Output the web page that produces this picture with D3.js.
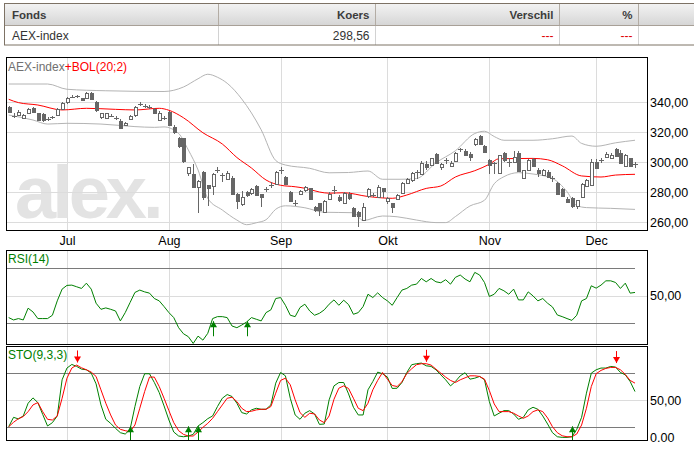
<!DOCTYPE html>
<html>
<head>
<meta charset="utf-8">
<script src="https://cdn.jsdelivr.net/npm/d3@7"></script>
<style>
  body { margin: 0; background: #fff; }
  svg { display: block; }
</style>
</head>
<body>
<svg id="chart" width="694" height="450"></svg>
<script>
// ---- data (one value per trading day, 15 Jun - 13 Dec 2011) ----
const opens = [
  337, 331.5, 331.3, 329.1, 332.4, 335.8, 332.4, 332, 328.5, 329.5,
  331.3, 335.1, 339.6, 343.2, 343.8, 342.4, 342.4, 346.2, 340.2, 329.8,
  329.1, 330.6, 329, 327.6, 324.7, 328.4, 331.3, 338.5, 337.2, 336.6,
  335.5, 328.4, 329, 333.6, 323.6, 315.8, 315.8, 292.4, 291.8, 283.1,
  293.6, 284.7, 284, 294, 291.6, 288.7, 289.6, 278.7, 272, 280,
  279, 284, 278.7, 281.5, 284.4, 285.3, 294.5, 290.2, 280.2, 273,
  279.1, 280.9, 282.4, 270.2, 272.4, 266.9, 275.1, 281, 276.4, 272.9,
  278.7, 269.6, 266.9, 260.9, 276.9, 277.8, 276.9, 282.4, 273.6, 272.4,
  275.1, 279.1, 286.2, 288.4, 293.4, 292, 298.7, 298, 305.3, 296.4,
  301, 297.8, 300.2, 307.6, 307.6, 305.3, 311.8, 317.3, 310.9, 301.3,
  299, 292.4, 306.2, 300, 300.2, 306.2, 289.1, 294.7, 301.8, 294.7,
  291.3, 293.6, 289.3, 286.2, 281.8, 275.1, 275.8, 270.7, 276.4, 284,
  284.7, 300.2, 301, 303.1, 302.4, 308.4, 306.2, 297.3, 302.4, 298.3
];
const highs = [
  337.5, 332.5, 334.5, 332, 336, 336.5, 332.8, 332.5, 329.8, 331,
  336, 340, 343.5, 345, 345, 343, 346.5, 346.8, 340.5, 333,
  333, 332, 330.5, 328.5, 326.8, 331.5, 337.5, 340, 338.5, 338,
  336, 333.8, 330.5, 334, 324.7, 316.9, 316, 297, 299, 288,
  294, 285, 292.5, 296.5, 293, 294.2, 290.5, 279.5, 281, 281,
  283, 284.5, 279, 283.5, 286.5, 294, 296.5, 291, 281, 274.5,
  281.5, 284, 283, 271, 273, 274.5, 280.2, 284, 278, 280,
  280, 270, 267.5, 272.4, 282.5, 279.5, 285, 283, 276.9, 273,
  279, 286.5, 289.5, 293.5, 295, 300.5, 300.5, 303, 306, 299.5,
  303, 300.5, 306.5, 309.5, 309, 306.5, 316, 318, 311.5, 302,
  300, 305, 306.5, 302.5, 307.6, 307.3, 295, 302, 302.5, 296,
  295.5, 294.5, 291, 287, 282.5, 276.5, 276.5, 275, 286, 289,
  302, 302, 303, 306.5, 306, 309.5, 308, 305.5, 303, 300
];
const lows = [
  333, 329.5, 330.5, 328.5, 332, 332.8, 327.5, 327, 327.5, 328.5,
  330.8, 334.6, 339, 342.5, 342.8, 340.5, 342, 342, 333.5, 329,
  328.8, 330, 328, 322.5, 324.2, 328, 330, 337.5, 336, 335.5,
  332.5, 328, 328, 324, 319, 309.1, 299.5, 291, 282.5, 266,
  275, 271, 278, 293, 287, 288, 278.5, 268.4, 271, 277,
  278, 277.5, 270.2, 280, 283, 284.5, 292, 285, 273.5, 271,
  278.5, 280, 274.5, 266.9, 264, 266, 274.5, 279, 273.5, 272,
  275, 263.5, 257, 260.5, 276, 276.5, 276.5, 276, 272, 266.2,
  274.5, 278.5, 285.5, 287, 289, 291.5, 295, 297.5, 298.5, 294.7,
  299, 297, 300, 307, 304, 300.5, 311, 311.5, 306, 292,
  292, 292, 300, 296.5, 299.5, 293.5, 288.5, 294, 296.5, 290.2,
  290.5, 289.5, 287, 278.5, 276.5, 272.4, 269.1, 268.5, 276, 283.5,
  284, 295.5, 299.5, 302.5, 302, 303.5, 299, 297, 296.5, 296
];
const closes = [
  333.6, 331, 333.6, 331.3, 335.3, 333.1, 328, 328, 328.9, 330,
  335.1, 339.1, 342.4, 343.6, 344, 340.9, 345.8, 342.4, 335.1, 332.4,
  332.4, 331, 329.3, 323.1, 326.2, 330.7, 336.9, 338.9, 337.5, 337,
  333.1, 332.9, 329.3, 324.7, 320.2, 310.2, 300.2, 296.4, 283.1, 287.3,
  276.9, 282.5, 291.8, 294.4, 291.3, 292.4, 279.1, 274.2, 276.9, 278,
  282, 278, 276.4, 281.8, 284.7, 293.6, 294.7, 285.8, 274.2, 272.9,
  280.9, 283.1, 275.1, 268, 268, 274.2, 278.7, 281.3, 274.2, 279.6,
  275.8, 264, 264, 269.8, 281.8, 278, 283.6, 280.2, 275.8, 269.6,
  278, 285.8, 288.7, 292.9, 293.6, 299.6, 296.4, 302.4, 299.1, 298.7,
  301.3, 299.6, 305.8, 308.4, 304.7, 303.1, 315.3, 312, 306.9, 298,
  299.1, 304.7, 301.3, 300.2, 303.6, 294.2, 294.7, 301.3, 297.3, 292.4,
  294.7, 290.2, 289.1, 279.1, 277.3, 272.9, 270.7, 274.7, 285.3, 288,
  300.2, 296.4, 301.3, 305.3, 304.7, 304, 299.6, 304.7, 297.3, 298.56
];

// Bollinger (20;2) lines, read as [day, value]
const bolUpper = [
  [0, 352], [8, 352], [12, 348.5], [20, 347.5], [32, 347], [36, 350], [39, 355.5],
  [41, 358.5], [43, 356.5], [45, 352.5], [48, 342], [52, 321.5], [55, 301], [57, 298],
  [62, 295.8], [66, 292.8], [70, 293], [74, 294], [77, 288.5], [81, 288.5], [84, 289],
  [88, 299.5], [92, 307.5], [96, 319], [98, 320.5], [100, 317], [102, 314.5], [108, 314.5],
  [112, 315.5], [116, 317.3], [118, 312.4], [121, 310.5], [125, 312.8], [129, 314.5]
];
const bolMiddle = [
  [0, 341.8], [2, 339.6], [6, 338], [11, 334.7], [16, 335.8], [22, 335.1], [26, 334.7],
  [31, 335.8], [33, 334.5], [36, 329.5], [40, 319.5], [44, 312], [47, 303], [50, 296],
  [53, 288], [56, 284.5], [59, 283.5], [61, 282.5], [64, 280], [66, 279.2], [69, 279.5],
  [74, 277], [79, 275.8], [82, 278], [86, 282.4], [89, 284], [92, 290], [96, 294.2],
  [99, 298.5], [101, 302.2], [108, 302.4], [111, 301.5], [114, 297.5], [118, 290.7],
  [122, 290], [125, 291.3], [129, 291.8]
];
const bolLower = [
  [0, 331.3], [5, 328], [8, 325.3], [12, 325.8], [19, 325.3], [26, 323.6], [30, 323.1],
  [32, 323.4], [35, 319], [37, 308], [39, 294.7], [41, 275.8], [44, 268], [47, 261.3],
  [49, 258.2], [51, 259.5], [53, 261.5], [55, 268.5], [57, 270.8], [61, 269.5], [65, 266.5],
  [71, 266.2], [73, 261], [77, 264], [80, 263.5], [84, 261.3], [88, 259.6], [90, 259.6],
  [92, 263.6], [95, 270.7], [98, 274.5], [100, 285.5], [102, 290.2], [105, 292.9],
  [108, 292], [112, 289], [115, 280.2], [117, 271], [119, 269.6], [124, 269.1], [129, 268.4]
];

const rsi = [
  34.1, 32.4, 33.4, 32.4, 40.9, 38.2, 33.4, 33.4, 33.4, 35.8,
  46.2, 54.7, 57.4, 57.6, 56.4, 55.2, 59.0, 54.7, 44.5, 40.1,
  41.1, 40.1, 38.9, 31.7, 37.7, 45.0, 52.3, 54.0, 52.7, 51.8,
  47.9, 46.2, 42.1, 37.7, 34.1, 26.8, 22.4, 20.3, 15.4, 20.7,
  17.8, 22.7, 33.4, 34.8, 34.8, 34.1, 28.0, 26.8, 28.7, 30.9,
  34.1, 32.9, 31.7, 37.7, 39.7, 47.9, 48.6, 43.0, 35.8, 34.8,
  41.4, 43.8, 38.9, 35.8, 37.2, 39.7, 43.8, 46.9, 43.0, 46.7,
  43.5, 36.5, 37.7, 42.1, 51.0, 48.6, 52.0, 48.6, 46.2, 43.0,
  48.6, 54.0, 55.2, 57.6, 58.3, 62.4, 60.0, 62.4, 60.0, 59.3,
  61.5, 58.3, 63.2, 64.9, 62.0, 60.0, 66.8, 64.9, 59.5, 49.4,
  51.0, 55.2, 53.5, 51.0, 54.7, 46.9, 46.9, 52.7, 49.8, 46.2,
  47.9, 44.5, 41.8, 36.0, 34.8, 33.4, 32.1, 35.8, 46.2, 47.9,
  57.1, 55.4, 57.6, 60.7, 60.7, 59.5, 55.2, 59.0, 51.8, 52.3
];
const stoK = [
  20.7, 31.1, 29.3, 32.6, 46.7, 52.6, 47.4, 34.4, 21.5, 25.2,
  32.6, 72.6, 85.6, 89.6, 87.4, 84.4, 83.7, 80.0, 68.1, 44.8,
  28.9, 24.4, 18.9, 14.1, 12.6, 17.8, 43.0, 65.2, 79.3, 79.3,
  69.6, 58.5, 43.7, 28.1, 14.8, 10.4, 9.6, 10.4, 12.2, 21.5,
  25.2, 29.6, 32.6, 43.0, 52.2, 56.3, 54.1, 46.7, 36.3, 34.8,
  39.3, 41.1, 40.0, 40.0, 44.8, 68.9, 80.7, 77.0, 52.2, 33.7,
  28.9, 35.6, 38.5, 34.8, 23.3, 23.7, 50.4, 65.9, 69.6, 69.6,
  57.0, 42.2, 33.7, 33.7, 61.5, 70.7, 81.1, 79.3, 75.6, 63.0,
  63.3, 69.6, 80.7, 89.3, 90.4, 91.1, 88.1, 87.4, 83.7, 78.1,
  72.6, 65.9, 70.7, 77.0, 80.4, 73.3, 74.4, 76.3, 72.6, 48.5,
  32.6, 35.6, 38.5, 38.5, 34.8, 28.9, 31.1, 39.3, 42.2, 40.0,
  32.6, 23.7, 14.1, 9.6, 8.9, 8.9, 9.6, 17.8, 31.1, 57.8,
  80.0, 83.7, 85.6, 85.6, 87.4, 86.7, 80.7, 78.1, 70.7, 59.6
];
const stoD = [
  20.7, 25.6, 29.6, 31.9, 37.4, 44.8, 47.4, 37.4, 28.9, 28.1,
  32.6, 52.2, 74.4, 85.6, 88.9, 85.9, 83.7, 81.1, 76.3, 61.5,
  46.7, 33.7, 22.6, 17.8, 16.3, 15.2, 22.6, 41.1, 59.6, 75.6,
  75.6, 65.2, 52.2, 38.5, 25.2, 16.3, 12.2, 10.4, 10.4, 14.8,
  20.0, 24.4, 30.0, 37.4, 44.8, 52.2, 53.3, 48.5, 41.1, 37.4,
  37.8, 39.3, 40.0, 40.0, 43.0, 57.8, 71.9, 74.4, 67.0, 50.4,
  36.3, 31.1, 35.6, 34.8, 28.1, 25.2, 32.6, 51.1, 63.3, 65.9,
  63.0, 52.2, 41.1, 38.5, 46.7, 61.5, 71.9, 80.7, 73.3, 66.3,
  65.2, 70.4, 79.6, 84.8, 89.3, 90.4, 90.4, 88.9, 84.4, 80.0,
  75.6, 71.9, 69.6, 72.6, 74.8, 77.0, 77.0, 76.3, 73.3, 60.7,
  45.9, 37.4, 37.4, 37.4, 35.6, 32.6, 30.0, 32.6, 37.4, 39.3,
  37.4, 30.4, 20.7, 14.1, 10.7, 9.6, 9.6, 12.6, 22.6, 41.1,
  65.2, 79.3, 83.0, 85.2, 86.3, 86.3, 83.7, 78.5, 71.9, 68.9
];

// signal arrows (trading-day index)
const rsiBuy = [42, 49];
const stoBuy = [25, 37, 39, 116];
const stoSell = [14, 86, 125];

const priceTicks = [260, 280, 300, 320, 340];
const rsiLevels = [30, 70];
const stoLevels = [20, 80];
const monthLabels = ['Jul', 'Aug', 'Sep', 'Okt', 'Nov', 'Dec'];
const tableHeader = ['Fonds', 'Koers', 'Verschil', '%'];
const tableRow = ['AEX-index', '298,56', '---', '---'];

// ---- layout ----
const FONT = 'Liberation Sans, Arial, sans-serif';
const candleColor = '#666';
const gridColor = '#dcdcdc';
const levelColor = '#7a7a7a';
const green = '#008000';
const red = '#ff0000';

const frameL = 6, frameR = 647;
const pricePanel = { top: 57, bottom: 230 };
const rsiPanel = { top: 250, bottom: 344 };
const stoPanel = { top: 346, bottom: 440 };

const svg = d3.select('#chart');
const nl = d3.formatLocale({ decimal: ',', thousands: '.', grouping: [3], currency: ['€', ''] });
const fmt = nl.format('.2f');

const dates = d3.timeDay.range(new Date(2011, 5, 15), new Date(2011, 11, 14))
                .filter(d => d.getDay() !== 0 && d.getDay() !== 6);
const monthIdx = dates.map((d, i) => i)
                      .filter(i => i > 0 && dates[i].getMonth() !== dates[i - 1].getMonth());

const x = d3.scaleLinear().domain([0, dates.length - 1]).range([8.7, 635]);
const yPrice = d3.scaleLinear().domain([260, 340]).range([222, 102]);
const yRsi = d3.scaleLinear().domain([15, 83]).range([rsiPanel.bottom, rsiPanel.top]);
const ySto = d3.scaleLinear().domain([6, 110]).range([stoPanel.bottom, stoPanel.top]);
const px = i => Math.round(x(i));

drawTable();
drawPanel(pricePanel);
drawPanel(rsiPanel);
drawPanel(stoPanel);
drawPrice();
drawRsi();
drawSto();
drawFrames();


function drawTable() {
  const defs = svg.append('defs');
  const grad = defs.append('linearGradient').attr('id', 'hdr').attr('x1', 0).attr('y1', 0).attr('x2', 0).attr('y2', 1);
  grad.append('stop').attr('offset', '0%').attr('stop-color', '#f3f3f3');
  grad.append('stop').attr('offset', '100%').attr('stop-color', '#d6d6d6');

  const g = svg.append('g').attr('font-family', FONT);
  const edges = [4.5, 218.5, 375.5, 559.5, 638.5, 720];

  g.append('rect').attr('x', 4.5).attr('y', 3.5).attr('width', 720).attr('height', 21.5)
    .attr('fill', 'url(#hdr)');
  g.append('rect').attr('x', 4.5).attr('y', 25).attr('width', 720).attr('height', 20)
    .attr('fill', '#fff');

  edges.slice(1, -1).forEach(e => {
    g.append('line').attr('x1', e).attr('x2', e).attr('y1', 4).attr('y2', 25)
      .attr('stroke', '#b3aca4');
    g.append('line').attr('x1', e).attr('x2', e).attr('y1', 25).attr('y2', 45)
      .attr('stroke', '#d2d2d2');
  });
  g.append('line').attr('x1', 4.5).attr('x2', 720).attr('y1', 25.5).attr('y2', 25.5)
    .attr('stroke', '#a8a097');
  g.append('rect').attr('x', 4.5).attr('y', 3.5).attr('width', 720).attr('height', 41.5)
    .attr('fill', 'none').attr('stroke', '#7d7265');

  tableHeader.forEach((t, k) => {
    const left = k === 0;
    g.append('text')
      .attr('x', left ? edges[k] + 7.5 : edges[k + 1] - 6)
      .attr('y', 18.5)
      .attr('text-anchor', left ? 'start' : 'end')
      .attr('font-size', 11.5).attr('font-weight', 'bold').attr('fill', '#3c3c3c')
      .text(t);
  });
  tableRow.forEach((t, k) => {
    const left = k === 0;
    g.append('text')
      .attr('x', left ? edges[k] + 7.5 : edges[k + 1] - 6)
      .attr('y', 39.5)
      .attr('text-anchor', left ? 'start' : 'end')
      .attr('font-size', 12).attr('fill', k >= 2 ? '#e00000' : '#333')
      .text(t);
  });
}  // End drawTable


function drawPanel(p) {
  svg.append('g').selectAll('line')
    .data(monthIdx)
    .enter()
    .append('line')
    .attr('x1', d => px(d) + 0.5).attr('x2', d => px(d) + 0.5)
    .attr('y1', p.top).attr('y2', p.bottom)
    .attr('stroke', gridColor);
}  // End drawPanel


function drawPrice() {
  // watermark
  svg.append('text')
    .attr('x', 15).attr('y', 218)
    .attr('font-family', FONT).attr('font-weight', 'bold').attr('font-size', 74)
    .attr('letter-spacing', -4)
    .attr('fill', '#e3e3e3')
    .text('alex.');

  svg.append('g').selectAll('line')
    .data(priceTicks)
    .enter()
    .append('line')
    .attr('x1', frameL).attr('x2', frameR)
    .attr('y1', d => Math.round(yPrice(d)) + 0.5).attr('y2', d => Math.round(yPrice(d)) + 0.5)
    .attr('stroke', gridColor);

  const line = d3.line().x(d => x(d[0])).y(d => yPrice(d[1])).curve(d3.curveMonotoneX);
  [[bolUpper, '#b4b4b4'], [bolLower, '#b4b4b4'], [bolMiddle, red]].forEach(([s, c]) => {
    svg.append('path').datum(s).attr('d', line)
      .attr('fill', 'none').attr('stroke', c).attr('stroke-width', 1);
  });

  const candles = svg.append('g').attr('shape-rendering', 'crispEdges');
  const idx = d3.range(closes.length);

  candles.selectAll('.wick')
    .data(idx)
    .enter()
    .append('line')
    .attr('class', 'wick')
    .attr('x1', i => px(i) + 0.5).attr('x2', i => px(i) + 0.5)
    .attr('y1', i => yPrice(highs[i])).attr('y2', i => yPrice(lows[i]))
    .attr('stroke', candleColor);

  const doji = i => Math.abs(yPrice(opens[i]) - yPrice(closes[i])) < 1.5;

  candles.selectAll('.body')
    .data(idx.filter(i => !doji(i)))
    .enter()
    .append('rect')
    .attr('class', 'body')
    .attr('x', i => px(i) - 1)
    .attr('y', i => Math.round(yPrice(Math.max(opens[i], closes[i]))))
    .attr('width', 3)
    .attr('height', i => Math.round(Math.abs(yPrice(opens[i]) - yPrice(closes[i]))))
    .attr('fill', i => closes[i] < opens[i] ? candleColor : '#fff')
    .attr('stroke', candleColor);

  candles.selectAll('.cross')
    .data(idx.filter(doji))
    .enter()
    .append('line')
    .attr('class', 'cross')
    .attr('x1', i => px(i) - 2).attr('x2', i => px(i) + 3)
    .attr('y1', i => Math.round(yPrice(closes[i])) + 0.5)
    .attr('y2', i => Math.round(yPrice(closes[i])) + 0.5)
    .attr('stroke', candleColor);

  const axis = svg.append('g')
    .attr('transform', `translate(${frameR},0)`)
    .call(d3.axisRight(yPrice).tickValues(priceTicks).tickSize(0).tickPadding(3).tickFormat(fmt));
  styleAxis(axis);

  const months = svg.append('g')
    .attr('transform', `translate(0,${pricePanel.bottom})`)
    .call(d3.axisBottom(x).tickValues(monthIdx).tickSize(0).tickPadding(6.5)
            .tickFormat((d, k) => monthLabels[k]));
  styleAxis(months);

  const title = svg.append('text').attr('x', 8).attr('y', 70.5)
    .attr('font-family', FONT).attr('font-size', 12);
  title.append('tspan').attr('fill', '#707070').text('AEX-index');
  title.append('tspan').attr('fill', red).text('+BOL(20;2)');
}  // End drawPrice


function drawRsi() {
  svg.append('line')
    .attr('x1', frameL).attr('x2', frameR)
    .attr('y1', Math.round(yRsi(50)) + 0.5).attr('y2', Math.round(yRsi(50)) + 0.5)
    .attr('stroke', gridColor);
  levelLines(rsiLevels, yRsi);

  svg.append('path').datum(rsi)
    .attr('d', d3.line().x((d, i) => x(i)).y(d => yRsi(d)))
    .attr('fill', 'none').attr('stroke', green);

  rsiBuy.forEach(i => arrow(x(i), yRsi(30) - 2, 15, 1, green));

  const axis = svg.append('g')
    .attr('transform', `translate(${frameR},0)`)
    .call(d3.axisRight(yRsi).tickValues([50]).tickSize(0).tickPadding(3).tickFormat(fmt));
  styleAxis(axis);

  svg.append('text').attr('x', 8).attr('y', 263)
    .attr('font-family', FONT).attr('font-size', 12).attr('fill', green)
    .text('RSI(14)');
}  // End drawRsi


function drawSto() {
  svg.append('line')
    .attr('x1', frameL).attr('x2', frameR)
    .attr('y1', Math.round(ySto(50)) + 0.5).attr('y2', Math.round(ySto(50)) + 0.5)
    .attr('stroke', gridColor);
  levelLines(stoLevels, ySto);

  const line = d3.line().x((d, i) => x(i)).y(d => ySto(d));
  svg.append('path').datum(stoK).attr('d', line).attr('fill', 'none').attr('stroke', green);
  svg.append('path').datum(stoD).attr('d', line).attr('fill', 'none').attr('stroke', red);

  stoBuy.forEach(i => arrow(x(i), ySto(20) - 1, stoPanel.bottom - ySto(20) + 1, 1, green));
  stoSell.forEach(i => arrow(x(i), ySto(stoK[i]) - 4, 12, -1, red));

  const axis = svg.append('g')
    .attr('transform', `translate(${frameR},0)`)
    .call(d3.axisRight(ySto).tickValues([50]).tickSize(0).tickPadding(3).tickFormat(fmt));
  styleAxis(axis);
  svg.append('text').attr('x', frameR + 3).attr('y', stoPanel.bottom - 2).attr('dy', '0.32em')
    .attr('font-family', FONT).attr('font-size', 12.5).attr('fill', '#000')
    .text('0.00');

  svg.append('text').attr('x', 8).attr('y', 359)
    .attr('font-family', FONT).attr('font-size', 12).attr('fill', green)
    .text('STO(9,3,3)');
}  // End drawSto


function levelLines(levels, y) {
  svg.append('g').selectAll('line')
    .data(levels)
    .enter()
    .append('line')
    .attr('x1', frameL).attr('x2', x(dates.length - 1))
    .attr('y1', d => Math.round(y(d)) + 0.5).attr('y2', d => Math.round(y(d)) + 0.5)
    .attr('stroke', levelColor);
}


// dir 1: tip on top (buy), dir -1: tip at bottom (sell)
function arrow(cx, tip, len, dir, color) {
  const c = Math.round(cx) + 0.5;
  const g = svg.append('g');
  g.append('line')
    .attr('x1', c).attr('x2', c)
    .attr('y1', tip).attr('y2', tip + dir * len)
    .attr('stroke', color);
  g.append('path')
    .attr('d', `M${c},${tip} L${c - 3.5},${tip + dir * 6} L${c + 3.5},${tip + dir * 6} Z`)
    .attr('fill', color);
}


function styleAxis(axis) {
  axis.select('.domain').remove();
  axis.attr('font-family', FONT).attr('font-size', 12.5);
  axis.selectAll('text').attr('fill', '#000');
}


function drawFrames() {
  [pricePanel, rsiPanel, stoPanel].forEach(p => {
    svg.append('rect')
      .attr('x', frameL + 0.5).attr('y', p.top + 0.5)
      .attr('width', frameR - frameL).attr('height', p.bottom - p.top)
      .attr('fill', 'none').attr('stroke', '#000');
  });
}
</script>
</body>
</html>
